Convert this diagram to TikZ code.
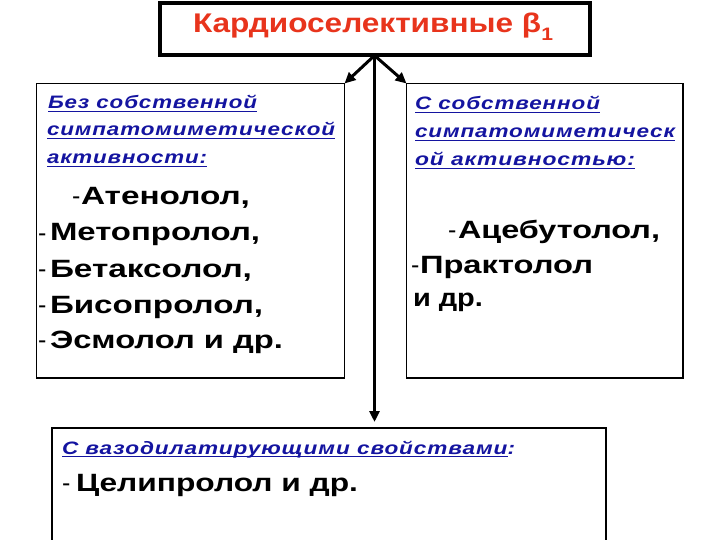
\documentclass[tikz,border=0pt]{standalone}
\usepackage{fontspec}
\setmainfont{Liberation Sans}
\usetikzlibrary{arrows.meta}
\definecolor{titlered}{RGB}{232,52,28}
\definecolor{hdrblue}{RGB}{20,20,160}
\newcommand\fitto[2]{\resizebox{#1pt}{\height}{#2}}
\newcommand\myul[1]{\setbox0=\hbox{#1}\rlap{\rule[-3pt]{\wd0}{1.4pt}}\box0}
\tikzset{
  box/.style={draw, line width=1.4pt, inner sep=0pt, outer sep=0pt},
  titlebox/.style={draw, line width=4pt, inner sep=0pt, outer sep=0pt},
  hdr/.style={anchor=base west, inner sep=0pt, outer sep=0pt, text=hdrblue,
    font=\fontsize{18}{18}\selectfont\bfseries\itshape\addfontfeature{LetterSpace=4}},
  drug/.style={anchor=base west, inner sep=0pt, outer sep=0pt,
    font=\fontsize{25}{25}\selectfont\bfseries},
  hyph/.style={anchor=base west, inner sep=0pt, outer sep=0pt,
    font=\fontsize{25}{25}\selectfont},
  ttl/.style={anchor=base west, inner sep=0pt, outer sep=0pt, text=titlered,
    font=\fontsize{27}{27}\selectfont\bfseries},
  arr/.style={line width=3pt, -{Triangle[length=11pt,width=10pt]}}
}
\begin{document}
\begin{tikzpicture}[x=1pt, y=-1pt]
\useasboundingbox (0,0) rectangle (720,540);
\fill[white] (0,0) rectangle (720,540);
\clip (0,0) rectangle (720,540);

% boxes
\node[titlebox, minimum width=430pt, minimum height=52.5pt] (title) at (374.5,29.25) {};
\node[box, minimum width=308pt, minimum height=294.5pt] (lbox) at (190.5,230.75) {};
\node[box, minimum width=276.5pt, minimum height=294.5pt] (rbox) at (544.75,230.75) {};
\node[box, minimum width=554pt, minimum height=132pt] (bbox) at (329,494) {};

% title text
\node[ttl] (ttext) at (193,33) {\fitto{360}{Кардиоселективные β\raisebox{-8pt}{\fontsize{18}{18}\selectfont 1}}};

% left box
\node[hdr] (lh1) at (48,109) {\fitto{209}{\myul{Без собственной}}};
\node[hdr] (lh2) at (47,136) {\fitto{288}{\myul{симпатомиметической}}};
\node[hdr] (lh3) at (47,164) {\fitto{160}{\myul{активности:}}};

\node[hyph] (ld1) at (72,205) {-};
\node[drug] (l1) at (81,205) {\fitto{169}{Атенолол,}};
\node[hyph] (ld2) at (38,241) {-};
\node[drug] (l2) at (50,241) {\fitto{210}{Метопролол,}};
\node[hyph] (ld3) at (38,277) {-};
\node[drug] (l3) at (50,277) {\fitto{202}{Бетаксолол,}};
\node[hyph] (ld4) at (38,313) {-};
\node[drug] (l4) at (50,313) {\fitto{213}{Бисопролол,}};
\node[hyph] (ld5) at (38,348) {-};
\node[drug] (l5) at (50,348) {\fitto{233}{Эсмолол и др.}};

% right box
\node[hdr] (rh1) at (415,110) {\fitto{185}{\myul{С собственной}}};
\node[hdr] (rh2) at (415,138) {\fitto{260}{\myul{симпатомиметическ}}};
\node[hdr] (rh3) at (415,166) {\fitto{220}{\myul{ой активностью:}}};

\node[hyph] (rd1) at (448,238) {-};
\node[drug] (r1) at (458,238) {\fitto{202}{Ацебутолол,}};
\node[hyph] (rd2) at (411,273) {-};
\node[drug] (r2) at (420,273) {\fitto{173}{Практолол}};
\node[drug] (r3) at (413,306) {\fitto{70}{и др.}};

% bottom box
\node[hdr] (bh) at (62,454) {\fitto{453}{\myul{С вазодилатирующими свойствами}:}};
\node[hyph] (bd) at (62,491) {-};
\node[drug] (b1) at (76,491) {\fitto{282}{Целипролол и др.}};

% connectors
\draw[arr] (title.south) -- (lbox.north east);
\draw[arr] (title.south) -- (rbox.north west);
\draw[arr, shorten >=6pt] (title.south) -- (title.south |- bbox.north);
\end{tikzpicture}
\end{document}
